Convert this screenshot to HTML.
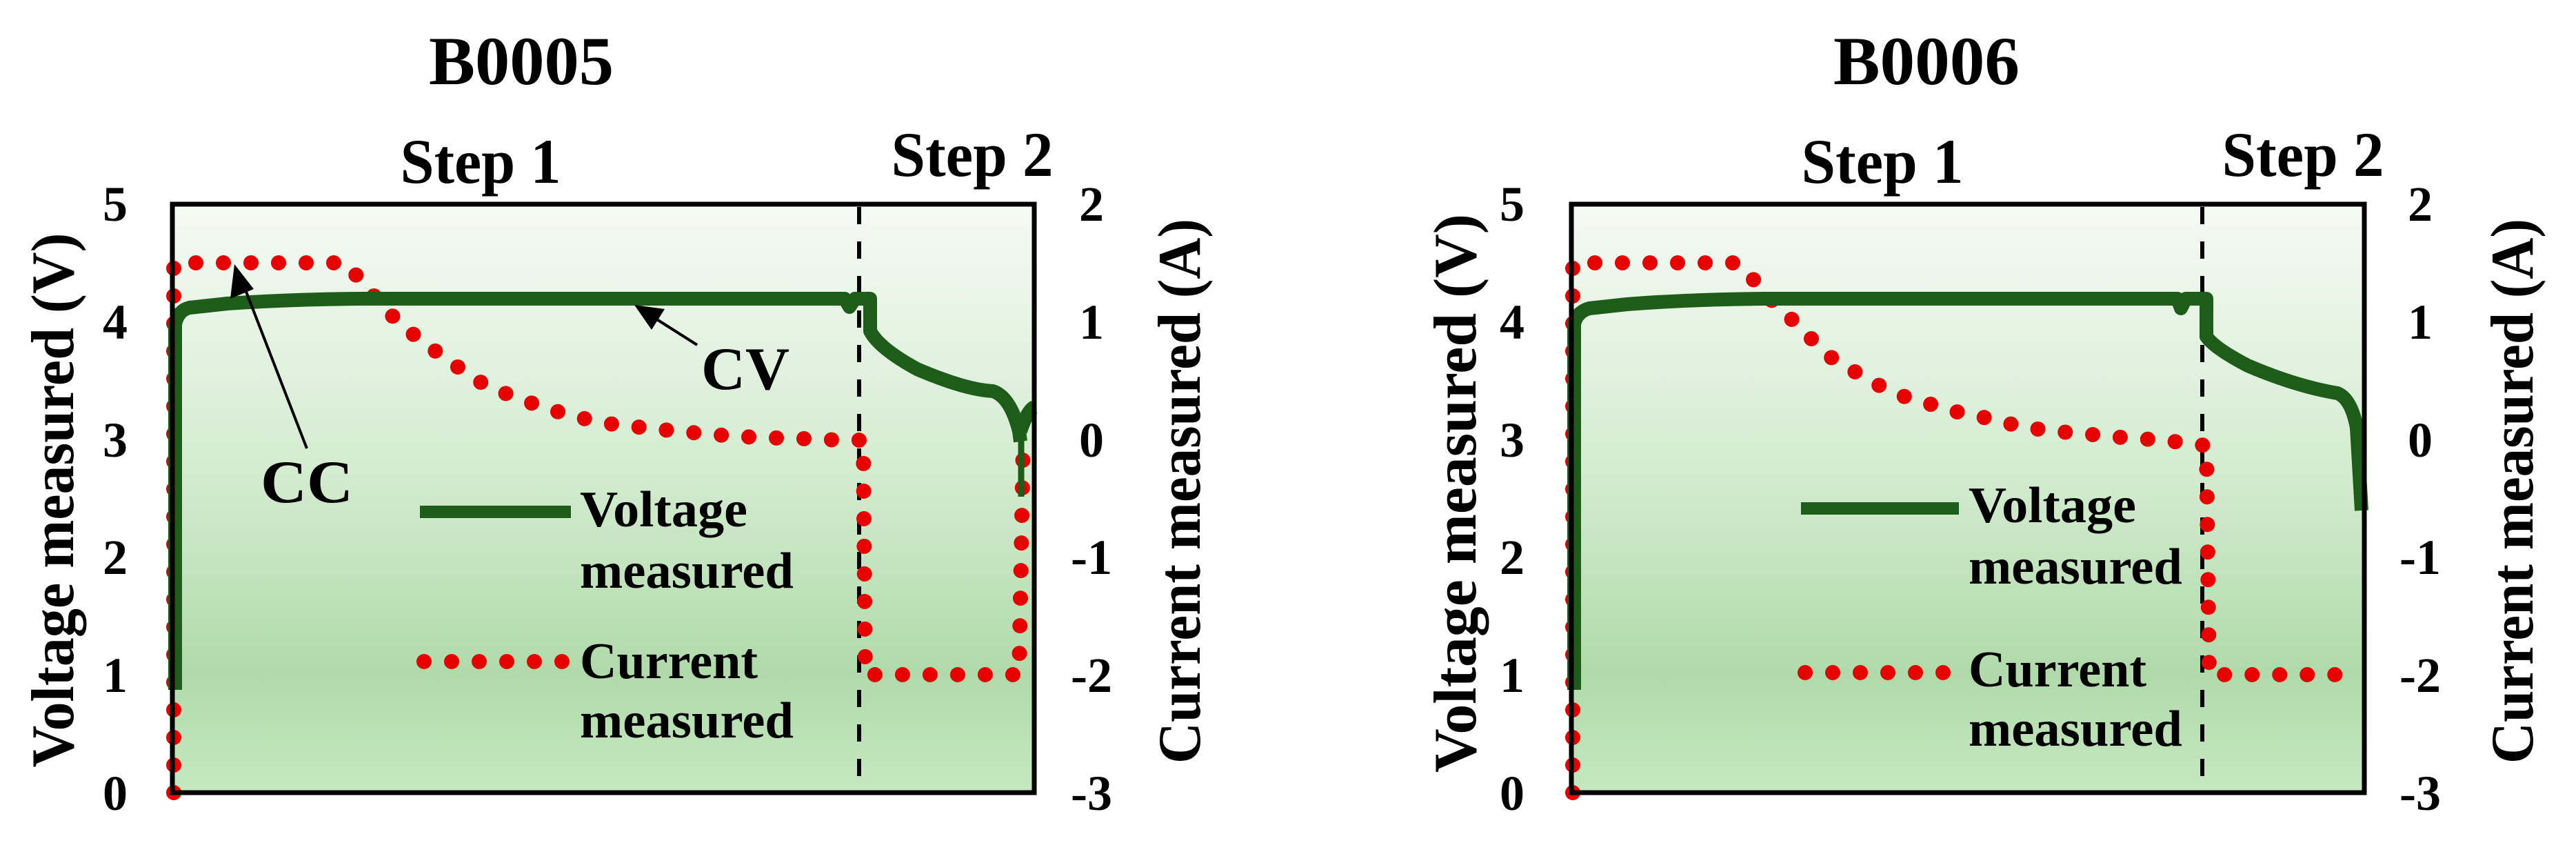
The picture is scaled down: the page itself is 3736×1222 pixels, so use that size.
<!DOCTYPE html>
<html><head><meta charset="utf-8"><style>html,body{margin:0;padding:0;background:#fff}svg{display:block}</style></head>
<body>
<svg width="3736" height="1222" viewBox="0 0 3736 1222" xmlns="http://www.w3.org/2000/svg" font-family="'Liberation Serif', serif" font-weight="bold">
<defs>
<linearGradient id="bg" x1="0" y1="0" x2="0" y2="1">
<stop offset="0" stop-color="#f6faf5"/>
<stop offset="0.45" stop-color="#d4ecd0"/>
<stop offset="0.8" stop-color="#b0daaa"/>
<stop offset="1" stop-color="#c6e8c1"/>
</linearGradient>
</defs>

<!-- ============ LEFT CHART ============ -->
<text x="756" y="122" font-size="100" text-anchor="middle" textLength="268" lengthAdjust="spacingAndGlyphs">B0005</text>
<text x="697" y="265" font-size="92" text-anchor="middle" textLength="233" lengthAdjust="spacingAndGlyphs">Step 1</text>
<text x="1410" y="255" font-size="92" text-anchor="middle" textLength="235" lengthAdjust="spacingAndGlyphs">Step 2</text>

<rect x="250" y="296" width="1250" height="853" fill="url(#bg)"/>
<line x1="1246" y1="300" x2="1246" y2="1149" stroke="#000" stroke-width="6" stroke-dasharray="25 25"/>

<path d="M252,1149 L252,381 L500,381 L524,407 L560,450 L609,493 L664,532 L706,560 L767,583 L828,603 L889,615 L962,623 L1035,630 L1096,634 L1169,636 L1218,638 L1252,638 L1255,978 L1478,978 L1484,638" fill="none" stroke="#e60000" stroke-width="22" stroke-linecap="round" stroke-dasharray="0 40"/>
<path d="M254,1000 L254,470 Q258,450 275,446 L330,440 Q420,434 520,433 L1225,433 L1232,445 L1240,433 L1262,433 L1262,480 Q1275,505 1330,535 Q1400,565 1440,567 Q1465,575 1478,625 L1480,640 M1480,625 Q1490,595 1500,590" fill="none" stroke="#1e5c1a" stroke-width="20" stroke-linejoin="round"/>
<line x1="1481" y1="625" x2="1481" y2="720" stroke="#1e5c1a" stroke-width="9"/>

<rect x="250" y="296" width="1250" height="853" fill="none" stroke="#000" stroke-width="7"/>

<line x1="445" y1="650" x2="352" y2="410" stroke="#000" stroke-width="4"/>
<path d="M340,383 L334,433 L368,419 z" fill="#000"/>
<text x="445" y="728" font-size="88" text-anchor="middle" textLength="134" lengthAdjust="spacingAndGlyphs">CC</text>
<line x1="1011" y1="500" x2="940" y2="455" stroke="#000" stroke-width="4"/>
<path d="M920,442 L945,478 L964,448 z" fill="#000"/>
<text x="1081" y="564" font-size="88" text-anchor="middle" textLength="128" lengthAdjust="spacingAndGlyphs">CV</text>

<line x1="609" y1="742" x2="828" y2="742" stroke="#1e5c1a" stroke-width="18"/>
<text x="841" y="763" font-size="74" textLength="243" lengthAdjust="spacingAndGlyphs">Voltage</text>
<text x="841" y="852" font-size="74" textLength="310" lengthAdjust="spacingAndGlyphs">measured</text>
<line x1="615" y1="959" x2="816" y2="959" stroke="#e60000" stroke-width="22" stroke-linecap="round" stroke-dasharray="0 40"/>
<text x="841" y="983" font-size="74" textLength="258" lengthAdjust="spacingAndGlyphs">Current</text>
<text x="841" y="1069" font-size="74" textLength="310" lengthAdjust="spacingAndGlyphs">measured</text>

<g font-size="72" text-anchor="middle">
<text x="167" y="320">5</text><text x="167" y="491">4</text><text x="167" y="662">3</text><text x="167" y="832">2</text><text x="167" y="1003">1</text><text x="167" y="1174">0</text>
<text x="1583" y="320">2</text><text x="1583" y="491">1</text><text x="1583" y="662">0</text><text x="1583" y="832">-1</text><text x="1583" y="1003">-2</text><text x="1583" y="1174">-3</text>
</g>
<text transform="translate(106,725) rotate(-90)" font-size="88" text-anchor="middle" textLength="775" lengthAdjust="spacingAndGlyphs">Voltage measured (V)</text>
<text transform="translate(1740,712) rotate(-90)" font-size="88" text-anchor="middle" textLength="790" lengthAdjust="spacingAndGlyphs">Current  measured (A)</text>

<!-- ============ RIGHT CHART ============ -->
<text x="2794" y="122" font-size="100" text-anchor="middle" textLength="270" lengthAdjust="spacingAndGlyphs">B0006</text>
<text x="2730" y="265" font-size="92" text-anchor="middle" textLength="235" lengthAdjust="spacingAndGlyphs">Step 1</text>
<text x="3340" y="255" font-size="92" text-anchor="middle" textLength="235" lengthAdjust="spacingAndGlyphs">Step 2</text>

<rect x="2279" y="296" width="1150" height="853" fill="url(#bg)"/>
<line x1="3194" y1="300" x2="3194" y2="1149" stroke="#000" stroke-width="6" stroke-dasharray="25 25"/>

<path d="M2281,1149 L2281,381 L2518,381 L2541,403 L2565,431 L2606,470 L2629,493 L2659,521 L2706,548 L2735,564 L2765,576 L2800,586 L2829,595 L2865,603 L2900,609 L2929,619 L2965,623 L3000,627 L3035,630 L3076,634 L3135,638 L3171,642 L3200,646 L3204,978 L3425,978" fill="none" stroke="#e60000" stroke-width="22" stroke-linecap="round" stroke-dasharray="0 40"/>
<path d="M2283,1000 L2283,470 Q2287,452 2305,447 L2360,441 Q2450,434 2559,433 L3158,433 L3163,447 L3170,433 L3200,433 L3200,488 Q3212,505 3260,530 Q3330,560 3390,570 Q3410,578 3418,620 L3425,740" fill="none" stroke="#1e5c1a" stroke-width="20" stroke-linejoin="round"/>

<rect x="2279" y="296" width="1150" height="853" fill="none" stroke="#000" stroke-width="7"/>

<line x1="2612" y1="737" x2="2841" y2="737" stroke="#1e5c1a" stroke-width="18"/>
<text x="2855" y="757" font-size="74" textLength="243" lengthAdjust="spacingAndGlyphs">Voltage</text>
<text x="2855" y="846" font-size="74" textLength="310" lengthAdjust="spacingAndGlyphs">measured</text>
<line x1="2618" y1="975" x2="2829" y2="975" stroke="#e60000" stroke-width="22" stroke-linecap="round" stroke-dasharray="0 40"/>
<text x="2855" y="995" font-size="74" textLength="258" lengthAdjust="spacingAndGlyphs">Current</text>
<text x="2855" y="1081" font-size="74" textLength="310" lengthAdjust="spacingAndGlyphs">measured</text>

<g font-size="72" text-anchor="middle">
<text x="2193" y="320">5</text><text x="2193" y="491">4</text><text x="2193" y="662">3</text><text x="2193" y="832">2</text><text x="2193" y="1003">1</text><text x="2193" y="1174">0</text>
<text x="3510" y="320">2</text><text x="3510" y="491">1</text><text x="3510" y="662">0</text><text x="3510" y="832">-1</text><text x="3510" y="1003">-2</text><text x="3510" y="1174">-3</text>
</g>
<text transform="translate(2140,715) rotate(-90)" font-size="88" text-anchor="middle" textLength="810" lengthAdjust="spacingAndGlyphs">Voltage measured (V)</text>
<text transform="translate(3673,712) rotate(-90)" font-size="88" text-anchor="middle" textLength="790" lengthAdjust="spacingAndGlyphs">Current  measured (A)</text>
</svg>
</body></html>
